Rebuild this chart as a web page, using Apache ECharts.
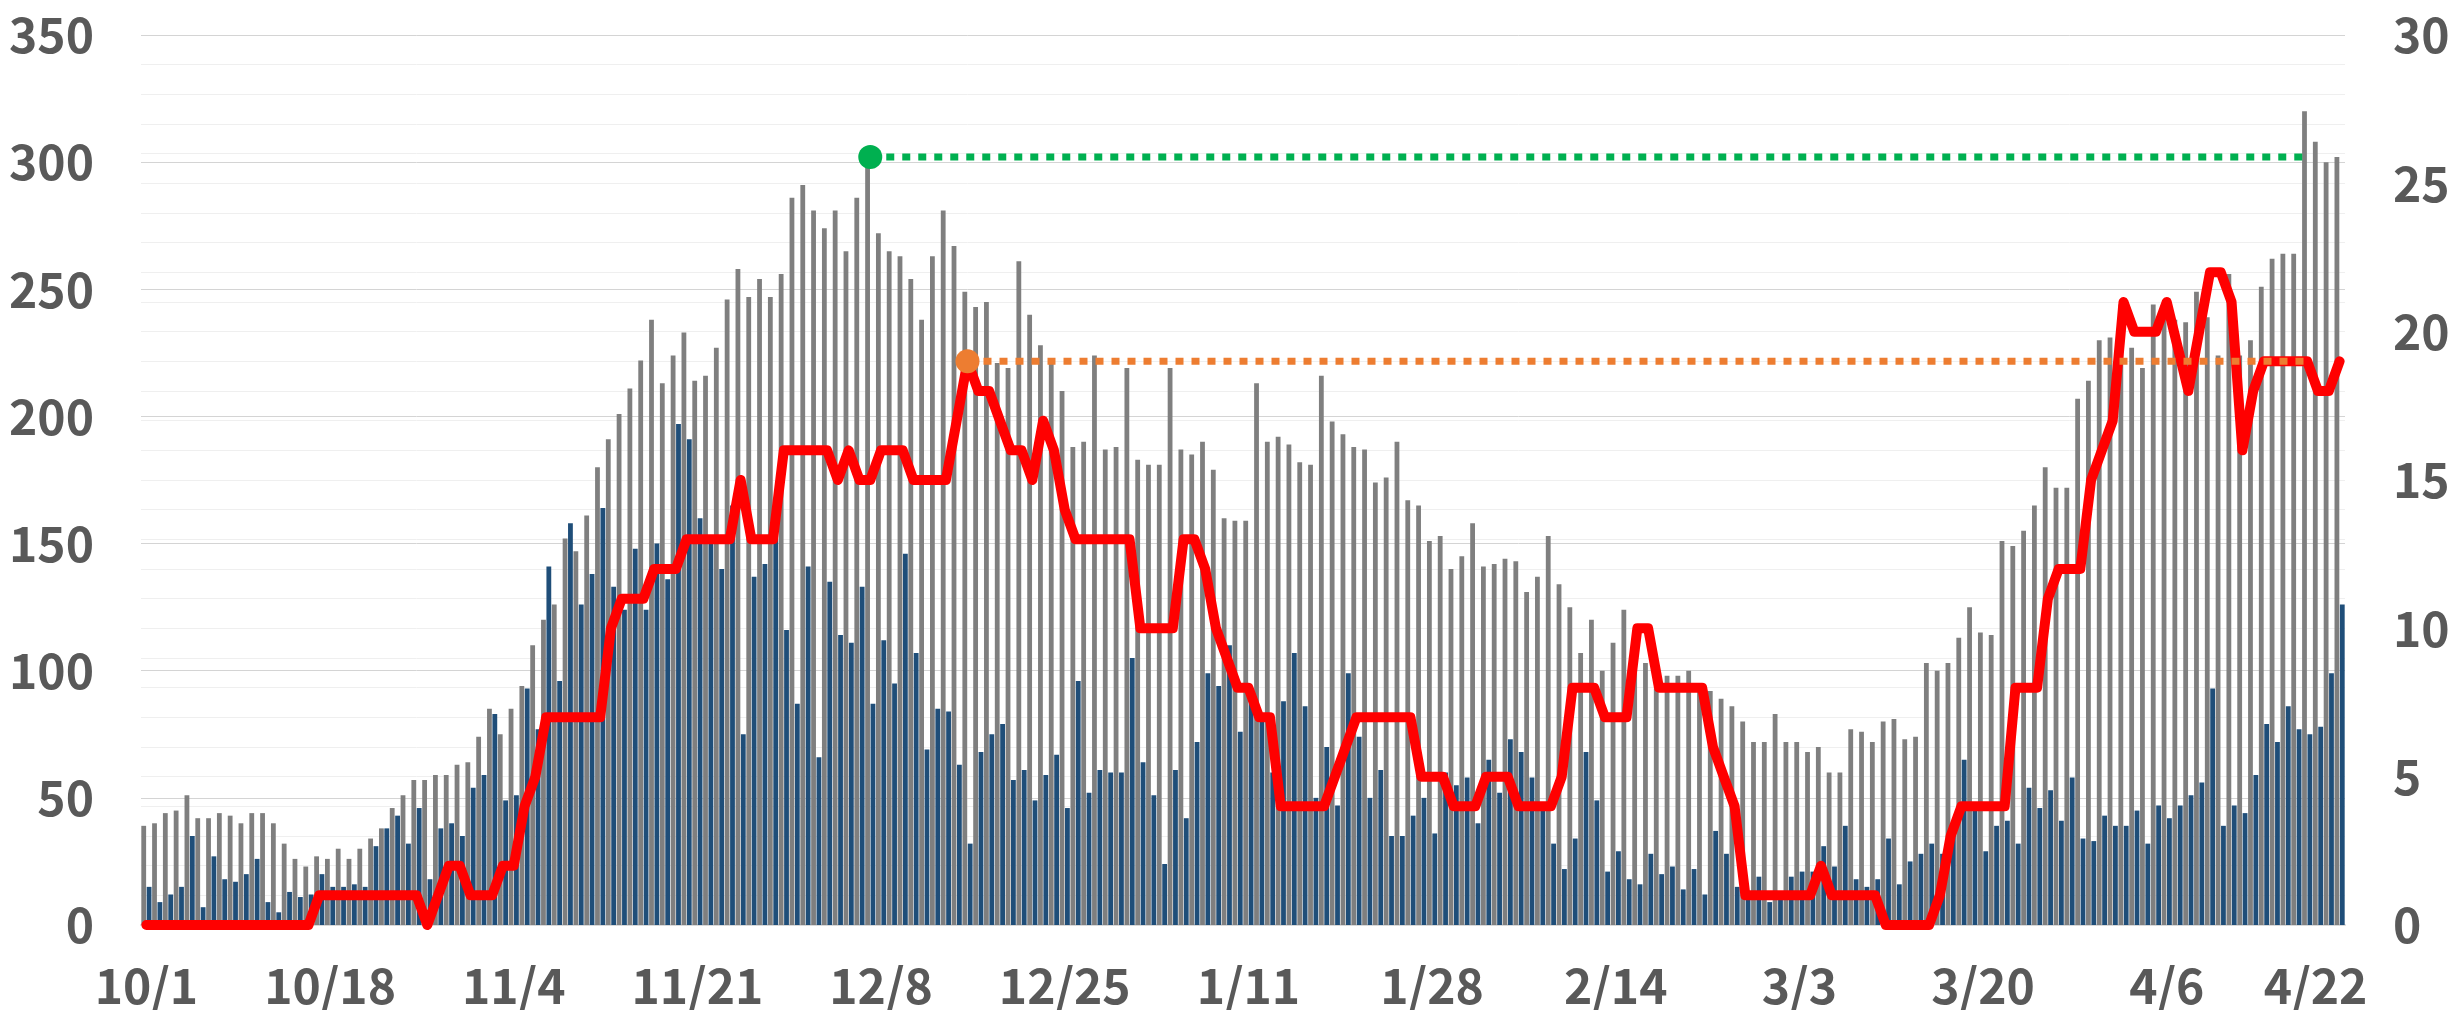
<!DOCTYPE html>
<html>
<head>
<meta charset="utf-8">
<script src="https://cdn.jsdelivr.net/npm/echarts@6/dist/echarts.min.js"></script>
<style>
html,body{margin:0;padding:0;background:#ffffff;}
#chart{width:2453px;height:1010px;}
</style>
</head>
<body>
<div id="chart"></div>
<script>
// ---- data ----
const startYear = 2020, startMonth = 10, startDay = 1;   // first category: 10/1
const dayCount = 204;                                     // 10/1 .. 4/22
const tickLabels = ['10/1','10/18','11/4','11/21','12/8','12/25','1/11','1/28','2/14','3/3','3/20','4/6','4/22'];

const grayValues = [
  39,40,44,45,51,42,42,44,43,40, 44,44,40,32,26,23,27,26,30,26,
  30,34,38,46,51,57,57,59,59,63, 64,74,85,75,85,94,110,120,126,152,
  147,161,180,191,201,211,222,238,213,224, 233,214,216,227,246,258,247,254,247,256,
  286,291,281,274,281,265,286,302,272,265, 263,254,238,263,281,267,249,243,245,221,
  219,261,240,228,222,210,188,190,224,187, 188,219,183,181,181,219,187,185,190,179,
  160,159,159,213,190,192,189,182,181,216, 198,193,188,187,174,176,190,167,165,151,
  153,140,145,158,141,142,144,143,131,137, 153,134,125,107,120,100,111,124,112,103,
  93,98,98,100,93,92,89,86,80,72, 72,83,72,72,68,70,60,60,77,76,
  72,80,81,73,74,103,100,103,113,125, 115,114,151,149,155,165,180,172,172,207,
  214,230,231,244,227,219,244,244,238,237, 249,239,224,256,224,230,251,262,264,264,
  320,308,300,302
];

const blueValues = [
  15,9,12,15,35,7,27,18,17,20, 26,9,5,13,11,12,20,15,15,16,
  15,31,38,43,32,46,18,38,40,35, 54,59,83,49,51,93,77,141,96,158,
  126,138,164,133,124,148,124,150,136,197, 191,160,150,140,165,75,137,142,152,116,
  87,141,66,135,114,111,133,87,112,95, 146,107,69,85,84,63,32,68,75,79,
  57,61,49,59,67,46,96,52,61,60, 60,105,64,51,24,61,42,72,99,94,
  110,76,92,82,60,88,107,86,50,70, 47,99,74,50,61,35,35,43,50,36,
  60,55,58,40,65,52,73,68,58,45, 32,22,34,68,49,21,29,18,16,28,
  20,23,14,22,12,37,28,15,12,19, 9,12,19,21,21,31,23,39,18,15,
  18,34,16,25,28,32,28,35,65,45, 29,39,41,32,54,46,53,41,58,34,
  33,43,39,39,45,32,47,42,47,51, 56,93,39,47,44,59,79,72,86,77,
  75,78,99,126
];

const redValues = [
  0,0,0,0,0,0,0,0,0,0, 0,0,0,0,0,0,1,1,1,1,
  1,1,1,1,1,1,0,1,2,2, 1,1,1,2,2,4,5,7,7,7,
  7,7,7,10,11,11,11,12,12,12, 13,13,13,13,13,15,13,13,13,16,
  16,16,16,16,15,16,15,15,16,16, 16,15,15,15,15,17,19,18,18,17,
  16,16,15,17,16,14,13,13,13,13, 13,13,10,10,10,10,13,13,12,10,
  9,8,8,7,7,4,4,4,4,4, 5,6,7,7,7,7,7,7,5,5,
  5,4,4,4,5,5,5,4,4,4, 4,5,8,8,8,7,7,7,10,10,
  8,8,8,8,8,6,5,4,1,1, 1,1,1,1,1,2,1,1,1,1,
  1,0,0,0,0,0,1,3,4,4, 4,4,4,8,8,8,11,12,12,12,
  15,16,17,21,20,20,20,21,19.5,18, 20,22,22,21,16,18,19,19,19,19,
  19,18,18,19
];

// reference levels (previous peaks) and the day range they span
const greenLevel = 302, greenFrom = 67, greenTo = 200;   // left axis
const orangeLevel = 19, orangeFrom = 76, orangeTo = 200; // right axis

// ---- build ----
const categories = [];
for (let i = 0; i < dayCount; i++) {
  const d = new Date(startYear, startMonth - 1, startDay + i);
  categories.push((d.getMonth() + 1) + '/' + d.getDate());
}
const tickSet = new Set();
categories.forEach((c, i) => {
  if (tickLabels.indexOf(c) >= 0 && (i % 17 === 0 || i === dayCount - 1)) tickSet.add(i);
});

function refLine(level, from, to) {
  const arr = [];
  for (let i = 0; i < dayCount; i++) {
    if (i < from || i > to) arr.push(null);
    else if (i === from) arr.push({ value: level, symbolSize: 24 });
    else arr.push(level);
  }
  return arr;
}

const FONT = '"Noto Sans CJK JP", "Noto Sans", sans-serif';
const TXT = '#595959';
const FS = 48;
const FW = 'bold';

const chart = echarts.init(document.getElementById('chart'), null, { renderer: 'canvas' });
chart.setOption({
  animation: false,
  backgroundColor: '#ffffff',
  grid: { left: 141, right: 108, top: 35, bottom: 85 },
  xAxis: {
    type: 'category',
    data: categories,
    boundaryGap: true,
    axisLine: { lineStyle: { color: '#D9D9D9', width: 2 } },
    axisTick: { show: false },
    axisLabel: {
      interval: (i) => tickSet.has(i),
      margin: 37,
      color: TXT, fontSize: FS, fontFamily: FONT, fontWeight: FW,
      formatter: (v, i) => (i === dayCount - 1 ? '{s|' + v + '}' : v),
      rich: { s: { padding: [0, 48, 0, 0], color: TXT, fontSize: FS, fontFamily: FONT, fontWeight: FW } }
    },
    splitLine: { show: false }
  },
  yAxis: [
    {
      type: 'value', position: 'right', min: 0, max: 30, interval: 1,
      axisLine: { show: false }, axisTick: { show: false },
      axisLabel: { margin: 48, color: TXT, fontSize: FS, fontFamily: FONT, fontWeight: FW,
        formatter: (v) => (v % 5 === 0 ? String(v) : '') },
      splitLine: { lineStyle: { color: '#EFEFEF', width: 1 } }
    },
    {
      type: 'value', position: 'left', min: 0, max: 350, interval: 50,
      axisLine: { show: false }, axisTick: { show: false },
      axisLabel: { margin: 47, color: TXT, fontSize: FS, fontFamily: FONT, fontWeight: FW },
      splitLine: { lineStyle: { color: '#D4D4D4', width: 1 } }
    }
  ],
  series: [
    {
      type: 'bar', yAxisIndex: 1, data: grayValues,
      barWidth: 4.8, barGap: '12%',
      itemStyle: { color: '#7F7F7F' }
    },
    {
      type: 'bar', yAxisIndex: 1, data: blueValues,
      barWidth: 4.8, barGap: '12%',
      itemStyle: { color: '#1F4E79' }
    },
    {
      type: 'line', yAxisIndex: 0, data: redValues,
      symbol: 'none', smooth: false,
      lineStyle: { color: '#FF0000', width: 10, join: 'round', cap: 'round' }
    },
    {
      type: 'line', yAxisIndex: 1, data: refLine(greenLevel, greenFrom, greenTo),
      symbol: 'circle', symbolSize: 0, showSymbol: true, showAllSymbol: true,
      itemStyle: { color: '#00B050' },
      lineStyle: { color: '#00B050', width: 7, type: [8, 8], cap: 'butt' },
      connectNulls: false
    },
    {
      type: 'line', yAxisIndex: 0, data: refLine(orangeLevel, orangeFrom, orangeTo),
      symbol: 'circle', symbolSize: 0, showSymbol: true, showAllSymbol: true,
      itemStyle: { color: '#ED7D31' },
      lineStyle: { color: '#ED7D31', width: 7, type: [8, 8], cap: 'butt' },
      connectNulls: false
    }
  ]
});
</script>
</body>
</html>
